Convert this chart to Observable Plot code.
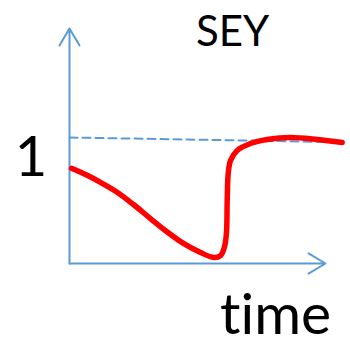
<!DOCTYPE html>
<html>
<head>
<meta charset="utf-8">
<script src="https://cdn.jsdelivr.net/npm/d3@7"></script>
<script src="https://cdn.jsdelivr.net/npm/@observablehq/plot@0.6"></script>
<style>
  html, body { margin: 0; padding: 0; background: #fff; }
  svg text { font-variant-ligatures: none; font-feature-settings: "liga" 0; }
</style>
</head>
<body>
<div id="chart"></div>
<script>
// SEY curve (time in arbitrary units, SEY relative to 1)
const curveTime = [0.08, 0.69, 1.21, 1.86, 2.50, 3.16, 3.82, 4.45, 5.12, 5.63, 5.90, 6.05, 6.13, 6.16, 6.20, 6.29, 6.55, 7.07, 7.72, 8.63, 9.68, 10.65];
const curveSEY  = [0.756, 0.700, 0.644, 0.566, 0.468, 0.357, 0.250, 0.159, 0.087, 0.048, 0.063, 0.129, 0.238, 0.50, 0.714, 0.817, 0.897, 0.952, 0.984, 1.0, 0.984, 0.96];

// reference level (dashed)
const refTime = [0, 10.08];
const refSEY  = [1.0, 0.965];

// axes extents
const xAxisEnd = 10;
const yAxisEnd = 1.865;

// labels
const titleText = "SEY";
const yTickLabel = "1";
const xLabel = "time";
const titlePos = {t: 6.37, v: 1.730};
const yTickPos = {t: -1.50, v: 0.698};
const xLabelPos = {t: 8.05, v: -0.556};

const curve = curveTime.map((t, i) => ({t, v: curveSEY[i]}));
const ref = refTime.map((t, i) => ({t, v: refSEY[i]}));
const axes = [
  {x1: 0, y1: 0, x2: xAxisEnd, y2: 0},
  {x1: 0, y1: 0, x2: 0, y2: yAxisEnd}
];
const blue = "#5B9BD5";
const font = "Lato, 'Open Sans', sans-serif";

const chart = Plot.plot({
  width: 350,
  height: 346,
  margin: 0,
  style: {background: "#fff", fontFamily: font},
  x: {domain: [0, 10], range: [69, 325], axis: null},
  y: {domain: [0, 1], range: [263, 137], axis: null},
  marks: [
    Plot.arrow(axes, {x1: "x1", y1: "y1", x2: "x2", y2: "y2", stroke: blue, strokeWidth: 2, headAngle: 61, headLength: 14.8}),
    Plot.line(ref, {x: "t", y: "v", stroke: blue, strokeWidth: 2, strokeDasharray: "8,5"}),
    Plot.line(curve, {x: "t", y: "v", stroke: "#ff0000", strokeWidth: 5.5, curve: "catmull-rom"}),
    Plot.text([titleText], {x: () => titlePos.t, y: () => titlePos.v, text: d => d, fontSize: 42, fill: "#000", textAnchor: "middle", lineAnchor: "bottom"}),
    Plot.text([yTickLabel], {x: () => yTickPos.t, y: () => yTickPos.v, text: d => d, fontSize: 56, fill: "#000", textAnchor: "middle", lineAnchor: "bottom"}),
    Plot.text([xLabel], {x: () => xLabelPos.t, y: () => xLabelPos.v, text: d => d, fontSize: 57, fill: "#000", textAnchor: "middle", lineAnchor: "bottom"})
  ]
});
document.getElementById("chart").appendChild(chart);
</script>
</body>
</html>
